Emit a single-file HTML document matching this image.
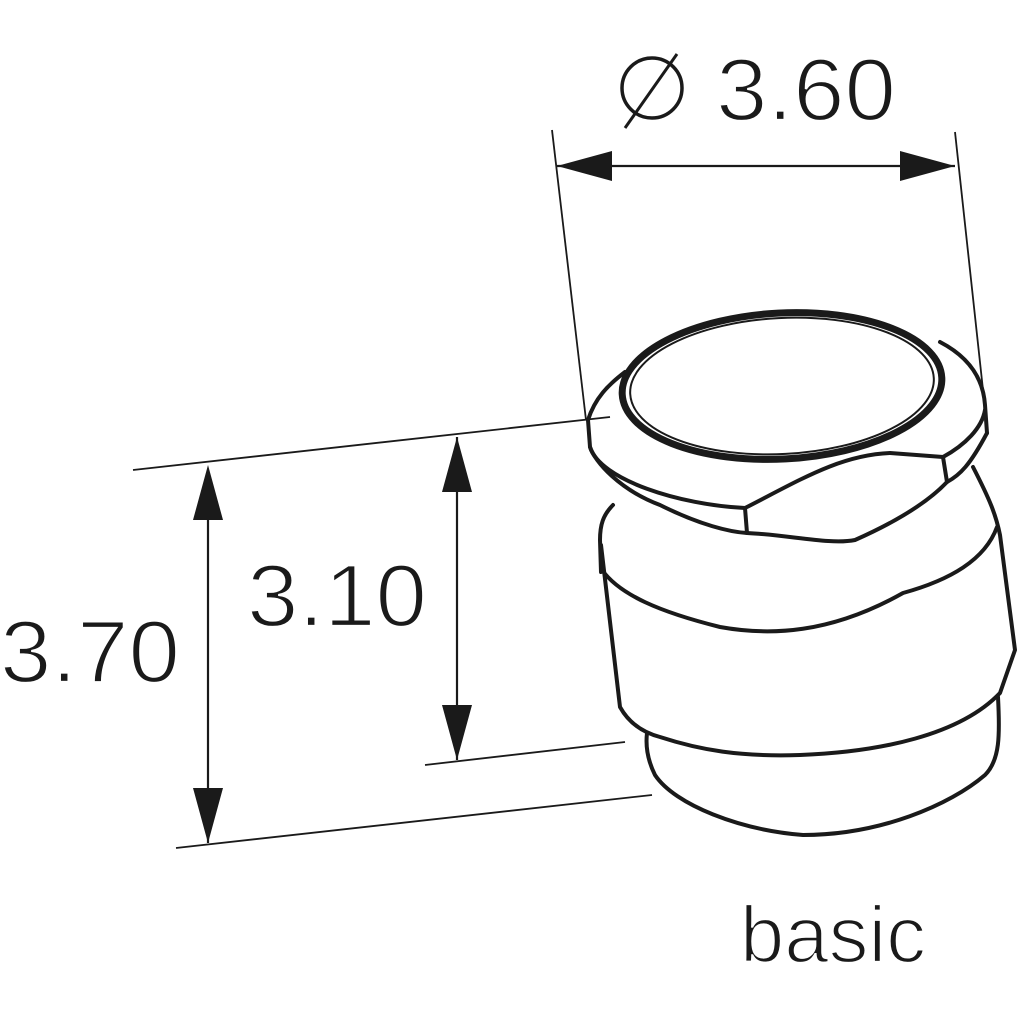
<!DOCTYPE html>
<html><head><style>html,body{margin:0;padding:0;background:#fff}svg{display:block}</style></head>
<body>
<svg width="1024" height="1024" viewBox="0 0 1024 1024" xmlns="http://www.w3.org/2000/svg">
<g stroke="#1a1a1a" fill="none" stroke-width="1.8">
<line x1="552" y1="130" x2="586" y2="420"/>
<line x1="955" y1="132" x2="983" y2="390"/>
<line x1="557" y1="166" x2="955" y2="166" stroke-width="2.2"/>
<line x1="133" y1="470" x2="610" y2="417"/>
<line x1="176" y1="848" x2="652" y2="795"/>
<line x1="425" y1="765" x2="625" y2="742"/>
<line x1="208" y1="470" x2="208" y2="843" stroke-width="2.2"/>
<line x1="457" y1="437" x2="457" y2="760" stroke-width="2.2"/>
</g>
<g fill="#1a1a1a">
<polygon points="557,166 612,151 612,181"/>
<polygon points="955,166 900,151 900,181"/>
<polygon points="208,465 193,520 223,520"/>
<polygon points="208,843 193,788 223,788"/>
<polygon points="457,437 442,492 472,492"/>
<polygon points="457,760 442,705 472,705"/>
</g>
<g stroke="#1a1a1a" fill="none" stroke-width="4" stroke-linejoin="round" stroke-linecap="round">
<!-- cap -->
<path d="M588,420 C595,398 608,385 625,372"/>
<path d="M940,342 C965,355 983,375 985,405 L987,433"/>
<path d="M588,420 L590,447 C600,480 680,505 745,508 C800,480 840,455 890,453 L943,457 C965,445 982,428 985,410"/>
<path d="M590,447 C595,462 620,490 660,505 C700,525 730,532 747,533 C790,535 830,545 855,540 C900,520 930,500 947,482 C960,475 970,465 987,433"/>
<line x1="745" y1="508" x2="747" y2="533"/>
<line x1="943" y1="457" x2="947" y2="482"/>
<!-- top ellipse -->
<ellipse cx="782" cy="386" rx="160" ry="73" transform="rotate(-3 782 386)" stroke-width="7"/>
<ellipse cx="782" cy="386" rx="152" ry="68" transform="rotate(-3 782 386)" stroke-width="2"/>
<!-- body -->
<path d="M613,505 C603,515 600,525 600,540 L601,572"/>
<path d="M601,545 L620,707 C630,725 645,733 660,737 C700,750 740,757 800,755 C880,752 960,735 1000,693 L1015,650 L1000,535 C996,515 990,500 973,467"/>
<path d="M602,570 C620,595 660,612 720,627 C770,636 830,634 903,593 C950,580 985,560 997,527"/>
<!-- bottom ring -->
<path d="M647,733 C645,750 650,765 655,775 C675,805 740,830 803,835 C880,835 950,805 985,775 C1000,760 1000,735 998,697"/>
</g>
<g font-family="'Liberation Sans', sans-serif" fill="#1a1a1a" stroke="#fff" stroke-width="2.2" font-weight="normal">
<circle cx="652" cy="88" r="30" fill="none" stroke="#1a1a1a" stroke-width="3.5"/>
<line x1="625" y1="128" x2="677" y2="54" stroke="#1a1a1a" stroke-width="3"/>
<text x="716" y="120" font-size="88" textLength="180" lengthAdjust="spacingAndGlyphs">3.60</text>
<text x="247" y="626" font-size="88" textLength="180" lengthAdjust="spacingAndGlyphs">3.10</text>
<text x="0" y="682" font-size="88" textLength="180" lengthAdjust="spacingAndGlyphs">3.70</text>
<text x="740" y="962" font-size="80" textLength="186" lengthAdjust="spacingAndGlyphs">basic</text>
</g>
</svg>
</body></html>
